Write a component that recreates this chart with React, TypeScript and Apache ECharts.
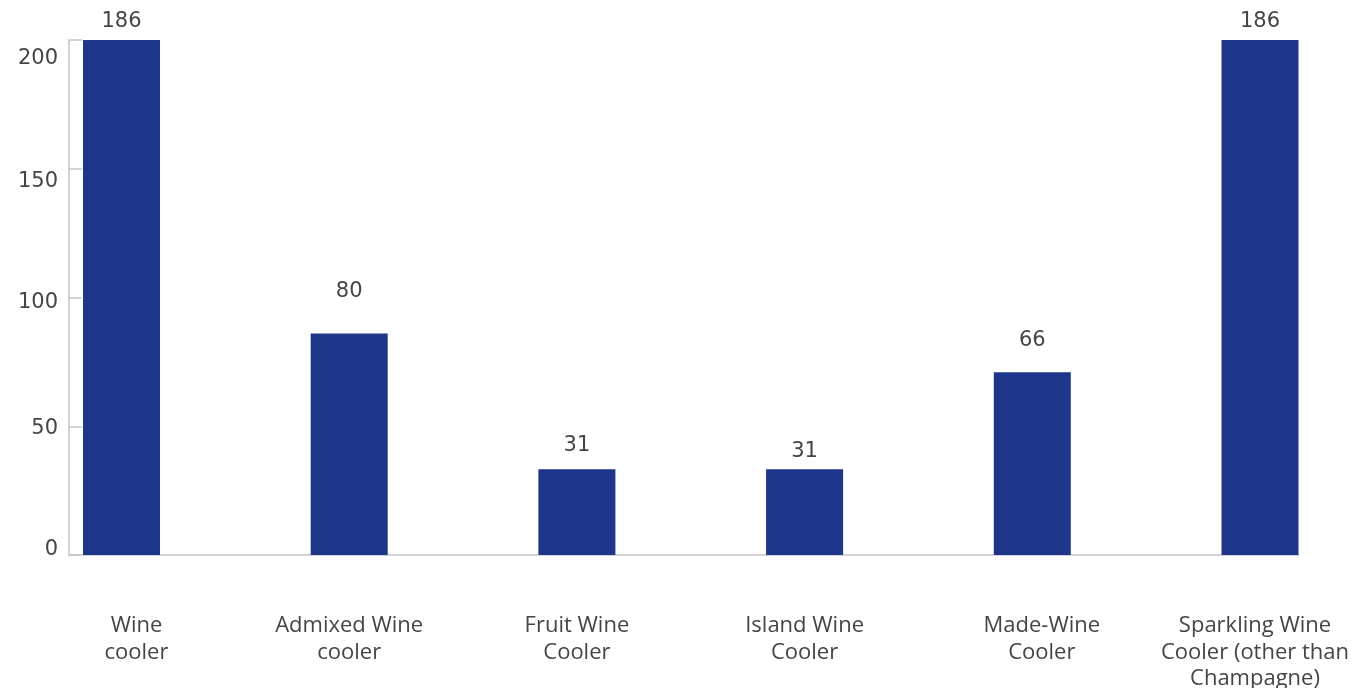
import React, { useEffect, useRef } from "react";
import * as echarts from "echarts";

const categories = [
  "Wine\ncooler",
  "Admixed Wine\ncooler",
  "Fruit Wine\nCooler",
  "Island Wine\nCooler",
  "Made-Wine\nCooler",
  "Sparkling Wine\nCooler (other than\nChampagne)",
];
const values = [186, 80, 31, 31, 66, 186];
const yTicks = [0, 50, 100, 150, 200];

// style-only tweaks (label gaps / label nudges)
const labelGaps = [10, 33, 15, 9, 23, 10];
const catLabelPads = [
  [0, 0, 0, 30],
  [0, 0, 0, 0],
  [0, 0, 0, 0],
  [0, 0, 0, 0],
  [0, 0, 0, 19],
  [0, 10, 0, 0],
];

const BAR = "#1e3689";
const TEXT = "#454545";
const AXIS = "#c4c4cc";
const NUM_FONT = "DejaVu Sans";
const CAT_FONT = "Open Sans";

export default function App() {
  const ref = useRef<HTMLDivElement>(null);
  useEffect(() => {
    if (!ref.current) return;
    const chart = echarts.init(ref.current, undefined, { renderer: "svg" });
    const pads: Record<number, number[]> = {
      0: [0, 0, 14, 0],
      50: [2, 0, 0, 0],
      100: [6, 0, 0, 0],
      150: [22, 0, 0, 0],
      200: [34, 0, 0, 0],
    };
    const rich: Record<string, any> = {};
    yTicks.forEach((t) => {
      rich["t" + t] = {
        padding: pads[t] || [0, 0, 0, 0],
        fontFamily: NUM_FONT,
        fontSize: 21,
        color: TEXT,
      };
    });
    chart.setOption({
      animation: false,
      grid: [
        { left: 69, right: 56, top: 40, bottom: 133, outerBoundsMode: "none", containLabel: false },
        { left: 121.5, right: 95, top: 40, bottom: 133, outerBoundsMode: "none", containLabel: false },
      ],
      xAxis: [
        {
          type: "category",
          gridIndex: 0,
          data: categories,
          boundaryGap: true,
          axisLine: { lineStyle: { color: AXIS, width: 1.5 } },
          axisTick: { inside: true, length: 14, lineStyle: { color: AXIS, width: 1.5 } },
          axisLabel: { show: false },
        },
        {
          type: "category",
          gridIndex: 1,
          data: categories.map((c, i) => ({
            value: c,
            textStyle: { padding: catLabelPads[i] },
          })),
          boundaryGap: false,
          axisLine: { show: false },
          axisTick: { show: false },
          axisLabel: {
            interval: 0,
            margin: 55,
            fontFamily: CAT_FONT,
            fontSize: 22,
            lineHeight: 26.5,
            color: TEXT,
          },
        },
      ],
      yAxis: [
        {
          type: "value",
          gridIndex: 0,
          min: 0,
          max: 200,
          interval: 50,
          splitLine: { show: false },
          axisLine: { show: true, lineStyle: { color: AXIS, width: 1.5 } },
          axisTick: { show: true, inside: true, length: 13, lineStyle: { color: AXIS, width: 1.5 } },
          axisLabel: {
            margin: 11,
            formatter: (v: number) => `{t${v}|${v}}`,
            rich,
          },
        },
        {
          type: "value",
          gridIndex: 1,
          min: 0,
          max: 186,
          show: false,
          splitLine: { show: false },
        },
      ],
      series: [
        {
          type: "bar",
          xAxisIndex: 1,
          yAxisIndex: 1,
          clip: false,
          barWidth: 77,
          itemStyle: { color: BAR },
          data: values.map((v, i) => ({
            value: v,
            label: { distance: labelGaps[i] },
          })),
          label: {
            show: true,
            position: "top",
            fontFamily: NUM_FONT,
            fontSize: 21,
            color: TEXT,
          },
        },
      ],
    });
    return () => chart.dispose();
  }, []);
  return (
    <div
      ref={ref}
      style={{ position: "fixed", left: 0, top: 0, width: 1355, height: 688 }}
    />
  );
}
